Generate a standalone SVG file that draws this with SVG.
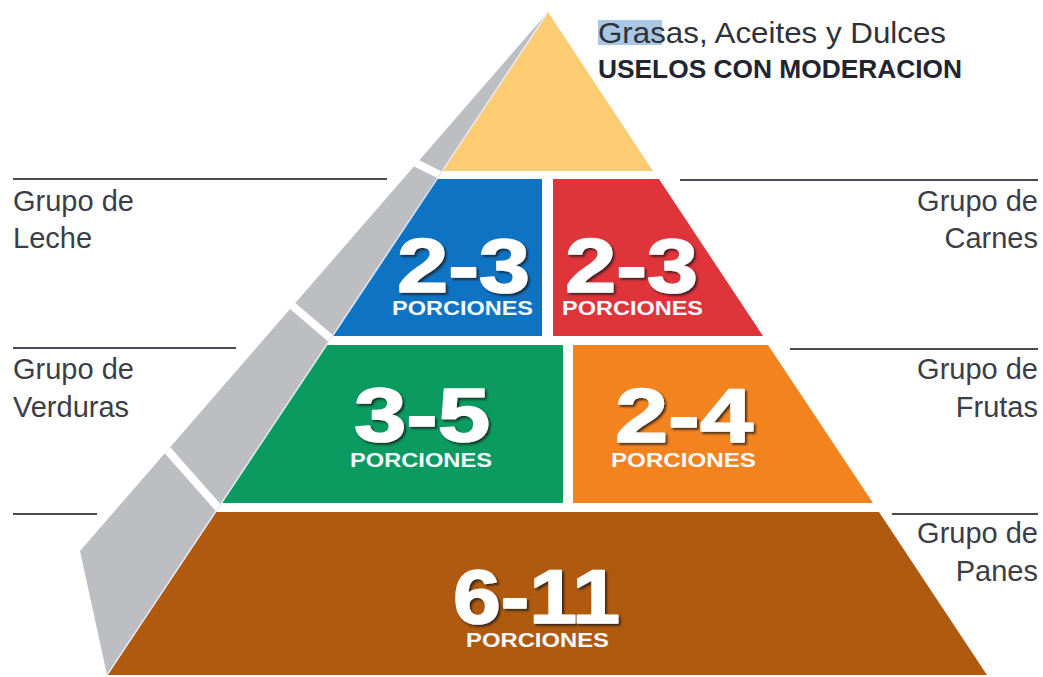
<svg xmlns="http://www.w3.org/2000/svg" width="1043" height="677" viewBox="0 0 1043 677">
  <defs>
    <style>
      .label { font-family: "Liberation Sans", Arial, sans-serif; font-size: 29px; fill: #3b3e46; }
      .label-r { text-anchor: end; }
      .rule { stroke: #4a4b4f; stroke-width: 2; fill: none; }
      .num { font-family: "Liberation Sans", Arial, sans-serif; font-weight: bold; font-size: 76px; fill: #ffffff; stroke: #ffffff; stroke-width: 1.6; stroke-linejoin: round; filter: url(#numShadow); }
      .por { font-family: "Liberation Sans", Arial, sans-serif; font-weight: bold; font-size: 21px; fill: #f4f8ff; }
      .sep { stroke: #ffffff; stroke-width: 8; fill: none; }
    </style>
    <filter id="numShadow" x="-15%" y="-15%" width="135%" height="140%">
      <feGaussianBlur in="SourceAlpha" stdDeviation="1.3"/>
      <feOffset dx="2" dy="2" result="blur"/>
      <feFlood flood-color="#1a1a1a" flood-opacity="0.8"/>
      <feComposite in2="blur" operator="in"/>
      <feMerge>
        <feMergeNode/>
        <feMergeNode in="SourceGraphic"/>
      </feMerge>
    </filter>
    <clipPath id="sideClip">
      <polygon points="548,12 80,551 107,675"/>
    </clipPath>
  </defs>

  <rect width="1043" height="677" fill="#ffffff"/>

  <!-- shaded left side face of the pyramid -->
  <g id="side-face">
    <polygon points="548,12 80,551 107,675" fill="#bdbec2"/>
    <g clip-path="url(#sideClip)">
      <line class="sep" x1="446" y1="178" x2="410" y2="160"/>
      <line class="sep" x1="336" y1="343" x2="288" y2="302"/>
      <line class="sep" x1="222" y1="512" x2="162" y2="444"/>
    </g>
  </g>

  <!-- front face tiers -->
  <g id="tier-grasas">
    <polygon points="548,12 653,171 442,171" fill="#fccc72"/>
  </g>
  <g id="tier-leche">
    <polygon points="436,179 542,179 542,336 333,336" fill="#0f73c4"/>
    <text class="num" x="397" y="292" textLength="133" lengthAdjust="spacingAndGlyphs">2-3</text>
    <text class="por" x="392" y="315" textLength="141" lengthAdjust="spacingAndGlyphs">PORCIONES</text>
  </g>
  <g id="tier-carnes">
    <polygon points="553,179 659,179 763,336 553,336" fill="#e0343b"/>
    <text class="num" x="565" y="292" textLength="133" lengthAdjust="spacingAndGlyphs">2-3</text>
    <text class="por" x="562" y="315" textLength="141" lengthAdjust="spacingAndGlyphs">PORCIONES</text>
  </g>
  <g id="tier-verduras">
    <polygon points="327,345 563,345 563,503 222,503" fill="#0b9a5f"/>
    <text class="num" x="354" y="441" textLength="136" lengthAdjust="spacingAndGlyphs">3-5</text>
    <text class="por" x="350" y="467" textLength="142" lengthAdjust="spacingAndGlyphs">PORCIONES</text>
  </g>
  <g id="tier-frutas">
    <polygon points="573,345 768,345 873,503 573,503" fill="#f3831f"/>
    <text class="num" x="615" y="442" textLength="138" lengthAdjust="spacingAndGlyphs">2-4</text>
    <text class="por" x="611" y="467" textLength="145" lengthAdjust="spacingAndGlyphs">PORCIONES</text>
  </g>
  <g id="tier-panes">
    <polygon points="216,512 879,512 987,675 107,675" fill="#b05a10"/>
    <text class="num" x="453" y="623" textLength="167" lengthAdjust="spacingAndGlyphs">6-11</text>
    <text class="por" x="466" y="647" textLength="143" lengthAdjust="spacingAndGlyphs">PORCIONES</text>
  </g>

  <!-- thin light edge between side and front faces -->
  <line x1="548" y1="12" x2="107" y2="675" stroke="#e4e9f1" stroke-width="1.5"/>

  <!-- leader rules beside the tiers -->
  <g id="leaders">
    <line class="rule" x1="13" y1="179" x2="387" y2="179"/>
    <line class="rule" x1="13" y1="348" x2="236" y2="348"/>
    <line class="rule" x1="13" y1="514" x2="97" y2="514"/>
    <line class="rule" x1="680" y1="180" x2="1038" y2="180"/>
    <line class="rule" x1="790" y1="349" x2="1038" y2="349"/>
    <line class="rule" x1="892" y1="514" x2="1038" y2="514"/>
  </g>

  <!-- group captions -->
  <g id="label-top">
    <rect x="598" y="20" width="64" height="25" fill="#a9c6e3"/>
    <text x="598" y="43" font-family="Liberation Sans, Arial, sans-serif" font-size="29" fill="#2f323b" textLength="348" lengthAdjust="spacingAndGlyphs">Grasas, Aceites y Dulces</text>
    <text x="598" y="78" font-family="Liberation Sans, Arial, sans-serif" font-size="26" font-weight="bold" fill="#22242f" textLength="364" lengthAdjust="spacingAndGlyphs">USELOS CON MODERACION</text>
  </g>
  <g id="label-leche">
    <text class="label" x="13" y="211">Grupo de</text>
    <text class="label" x="13" y="248">Leche</text>
  </g>
  <g id="label-verduras">
    <text class="label" x="13" y="379">Grupo de</text>
    <text class="label" x="13" y="417">Verduras</text>
  </g>
  <g id="label-carnes">
    <text class="label label-r" x="1038" y="211">Grupo de</text>
    <text class="label label-r" x="1038" y="248">Carnes</text>
  </g>
  <g id="label-frutas">
    <text class="label label-r" x="1038" y="379">Grupo de</text>
    <text class="label label-r" x="1038" y="417">Frutas</text>
  </g>
  <g id="label-panes">
    <text class="label label-r" x="1038" y="543">Grupo de</text>
    <text class="label label-r" x="1038" y="581">Panes</text>
  </g>
</svg>
